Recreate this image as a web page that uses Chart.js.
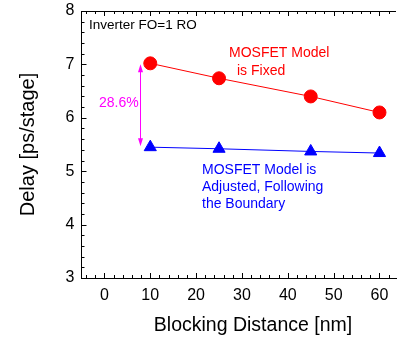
<!DOCTYPE html>
<html><head><meta charset="utf-8">
<script src="https://cdn.jsdelivr.net/npm/chart.js@4/dist/chart.umd.min.js"></script>
<style>html,body{margin:0;padding:0;background:#fff;overflow:hidden}#wrap{width:404px;height:341px}</style>
</head><body><div id="wrap"><canvas id="c" width="404" height="341"></canvas></div>
<script>
const distances = [10, 25, 45, 60];
const fixedDelay = [7.02, 6.74, 6.40, 6.10];
const adjustedDelay = [5.45, 5.42, 5.37, 5.34];
const xTicks = [0, 10, 20, 30, 40, 50, 60];
const yTicks = [3, 4, 5, 6, 7, 8];
const improvementLabel = '28.6%';
const xTitle = 'Blocking Distance [nm]';
const yTitle = 'Delay [ps/stage]';

const FONT = '"Liberation Sans", Arial, sans-serif';

const frame = {
  id: 'frame',
  afterDraw(chart) {
    const {ctx, chartArea: a, scales: {x, y}} = chart;
    ctx.save();
    ctx.strokeStyle = '#000';
    ctx.lineWidth = 1;
    // top line
    ctx.beginPath(); ctx.moveTo(a.left, Math.round(a.top) + 0.5); ctx.lineTo(a.right, Math.round(a.top) + 0.5); ctx.stroke();
    // x ticks
    for (let v = -4; v <= 64; v += 2) {
      const px = Math.round(x.getPixelForValue(v)) + 0.5;
      if (px < a.left || px > a.right) continue;
      const len = (v % 10 === 0) ? 5 : 3;
      ctx.beginPath(); ctx.moveTo(px, a.bottom); ctx.lineTo(px, a.bottom - len); ctx.stroke();
      ctx.beginPath(); ctx.moveTo(px, a.top); ctx.lineTo(px, a.top + len); ctx.stroke();
    }
    for (let i = 0; i <= 25; i++) {
      const v = 3 + i * 0.2;
      const py = Math.round(y.getPixelForValue(v)) + 0.5;
      const len = (i % 5 === 0) ? 5 : 3;
      ctx.beginPath(); ctx.moveTo(a.left, py); ctx.lineTo(a.left + len, py); ctx.stroke();
    }
    // arrow
    const ax = Math.round(x.getPixelForValue(7.7)) + 0.5;
    const y1 = y.getPixelForValue(fixedDelay[0]) + 1;
    const y2 = y.getPixelForValue(adjustedDelay[0]) - 1;
    ctx.strokeStyle = '#ff00ff'; ctx.fillStyle = '#ff00ff';
    ctx.beginPath(); ctx.moveTo(ax, y1 + 6); ctx.lineTo(ax, y2 - 6); ctx.stroke();
    ctx.beginPath(); ctx.moveTo(ax, y1); ctx.lineTo(ax - 2.5, y1 + 8); ctx.lineTo(ax + 2.5, y1 + 8); ctx.closePath(); ctx.fill();
    ctx.beginPath(); ctx.moveTo(ax, y2); ctx.lineTo(ax - 2.5, y2 - 8); ctx.lineTo(ax + 2.5, y2 - 8); ctx.closePath(); ctx.fill();
    // texts
    ctx.textBaseline = 'middle';
    ctx.textAlign = 'left';
    ctx.font = '13.5px ' + FONT; ctx.fillStyle = '#000';
    ctx.fillText('Inverter FO=1 RO', 89, 25);
    ctx.font = '14px ' + FONT; ctx.fillStyle = '#ff0000';
    ctx.fillText('MOSFET Model', 229, 53);
    ctx.fillText('is Fixed', 237, 71);
    ctx.fillStyle = '#ff00ff';
    ctx.fillText(improvementLabel, 99, 103);
    ctx.fillStyle = '#0000ff';
    ctx.fillText('MOSFET Model is', 202, 170);
    ctx.fillText('Adjusted, Following', 202, 187);
    ctx.fillText('the Boundary', 202, 204);
    // x title
    ctx.fillStyle = '#000';
    ctx.textAlign = 'center';
    ctx.textBaseline = 'middle';
    ctx.font = '19.5px ' + FONT;
    ctx.fillText(xTitle, 253, 326);
    ctx.restore();
  }
};

new Chart(document.getElementById('c'), {
  type: 'scatter',
  data: {
    datasets: [
      {
        label: 'MOSFET Model is Fixed',
        data: distances.map((d, i) => ({x: d, y: fixedDelay[i]})),
        showLine: true, borderColor: '#ff0000', backgroundColor: '#ff0000', borderWidth: 1,
        pointStyle: 'circle', pointRadius: 6.5, pointHoverRadius: 6.5
      },
      {
        label: 'MOSFET Model is Adjusted',
        data: distances.map((d, i) => ({x: d, y: adjustedDelay[i]})),
        showLine: true, borderColor: '#0000ff', backgroundColor: '#0000ff', borderWidth: 1,
        pointStyle: 'triangle', pointRadius: 7, pointHoverRadius: 7
      }
    ]
  },
  options: {
    responsive: false, animation: false,
    layout: {padding: {top: 11, right: 0, left: 12, bottom: 0}},
    plugins: {legend: {display: false}, tooltip: {enabled: false}},
    scales: {
      x: {
        type: 'linear', min: -5, max: 63.6,
        afterBuildTicks: s => { s.ticks = xTicks.map(v => ({value: v})); },
        afterFit: s => { s.height = 63; s.paddingLeft = 0; s.paddingRight = 0; },
        grid: {display: false, drawTicks: false},
        border: {display: true, color: '#000', width: 1},
        ticks: {color: '#000', font: {family: FONT, size: 16}, padding: 8, maxRotation: 0},
        title: {display: false}
      },
      y: {
        type: 'linear', min: 3, max: 8,
        afterBuildTicks: s => { s.ticks = yTicks.map(v => ({value: v})); },
        afterFit: s => { s.width = 69.5; s.paddingTop = 0; s.paddingBottom = 0; },
        grid: {display: false, drawTicks: false},
        border: {display: true, color: '#000', width: 1},
        ticks: {color: '#000', font: {family: FONT, size: 16}, padding: 7},
        title: {display: true, text: yTitle, color: '#000', font: {family: FONT, size: 20}}
      }
    }
  },
  plugins: [frame]
});
</script></body></html>
